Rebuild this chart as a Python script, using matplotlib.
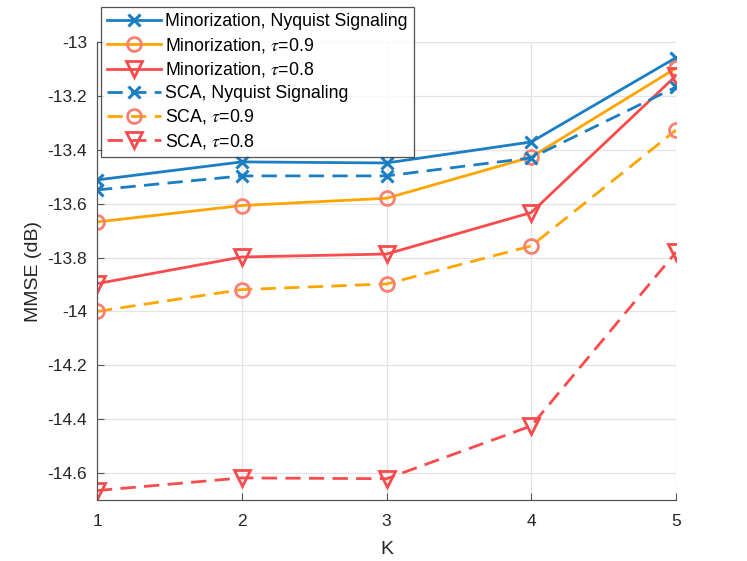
import matplotlib
matplotlib.use("Agg")
import matplotlib.pyplot as plt
from matplotlib.ticker import FixedLocator

plt.rcParams['font.family'] = ['Liberation Sans', 'DejaVu Sans']
plt.rcParams['mathtext.fontset'] = 'stix'

K = [1, 2, 3, 4, 5]
min_nyq = [-13.512, -13.445, -13.449, -13.371, -13.058]
min_t09 = [-13.668, -13.607, -13.580, -13.427, -13.097]
min_t08 = [-13.897, -13.798, -13.787, -13.633, -13.125]
sca_nyq = [-13.549, -13.497, -13.497, -13.430, -13.167]
sca_t09 = [-14.000, -13.919, -13.898, -13.757, -13.327]
sca_t08 = [-14.665, -14.618, -14.621, -14.425, -13.780]
labels = ['Minorization, Nyquist Signaling', r'Minorization, $\tau$=0.9',
          r'Minorization, $\tau$=0.8', 'SCA, Nyquist Signaling',
          r'SCA, $\tau$=0.9', r'SCA, $\tau$=0.8']
yticks = [-14.6, -14.4, -14.2, -14.0, -13.8, -13.6, -13.4, -13.2, -13.0]

blue = '#1A7EC2'
orange = '#FFA500'
salmon = '#FA8072'
red = '#F94B4B'

fig = plt.figure(figsize=(7.47, 5.61), dpi=100)
ax = fig.add_axes([97/747, 1-500/561, (676-97)/747, (500-42)/561])

lw = 2.0
dash = (5.5, 3.0)
ax.plot(K, min_nyq, '-', color=blue, lw=lw, marker='x', ms=9, mew=2.2, label=labels[0])
ax.plot(K, min_t09, '-', color=orange, lw=lw, marker='o', ms=10, mew=2, mfc='none', mec=salmon, label=labels[1])
ax.plot(K, min_t08, '-', color=red, lw=lw, marker='v', ms=11, mew=2, mfc='none', mec=red, label=labels[2])
ax.plot(K, sca_nyq, '--', color=blue, lw=lw, dashes=dash, marker='x', ms=9, mew=2.2, label=labels[3])
ax.plot(K, sca_t09, '--', color=orange, lw=lw, dashes=dash, marker='o', ms=10, mew=2, mfc='none', mec=salmon, label=labels[4])
ax.plot(K, sca_t08, '--', color=red, lw=lw, dashes=dash, marker='v', ms=11, mew=2, mfc='none', mec=red, label=labels[5])

ax.set_xlim(1, 5)
ax.set_ylim(-14.7, -13.0)
ax.set_xticks(K)
ax.set_xticklabels([str(k) for k in K])
ax.yaxis.set_major_locator(FixedLocator(yticks))
ax.set_yticklabels([('%g' % v).replace('\u2212', '-') for v in yticks])
ax.grid(True, color='#e3e3e3', lw=0.9)
ax.set_axisbelow(True)
for s in ['top', 'right']:
    ax.spines[s].set_visible(False)
for s in ['left', 'bottom']:
    ax.spines[s].set_color('#555555')
    ax.spines[s].set_linewidth(0.9)
ax.tick_params(direction='in', length=5, width=0.8, colors='#555555',
               labelcolor='#262626', labelsize=12.5)
ax.tick_params(axis='y', pad=7)
ax.tick_params(axis='x', pad=10)
ax.set_xlabel('K', fontsize=14, color='#262626', labelpad=9)
ax.set_ylabel('MMSE (dB)', fontsize=14, color='#262626', labelpad=4)

leg = ax.legend(loc='upper left', bbox_to_anchor=(101/747, 1-7/561),
                bbox_transform=fig.transFigure, fontsize=12.8,
                frameon=True, fancybox=False, edgecolor='#262626',
                borderaxespad=0, handlelength=3.0, handletextpad=0.25,
                labelspacing=0.31, borderpad=0.35)
leg.get_frame().set_linewidth(0.9)

fig.savefig('out.png', dpi=100)
